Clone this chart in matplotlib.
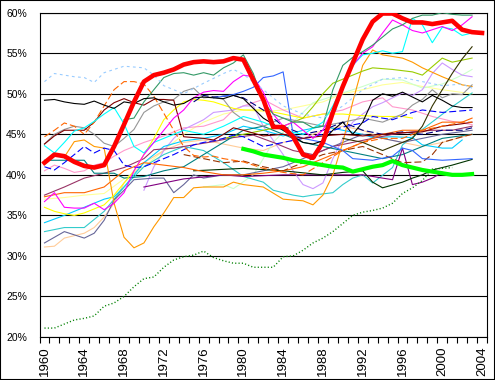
import matplotlib
matplotlib.use("Agg")
import matplotlib.pyplot as plt
from matplotlib.patches import Rectangle

plt.rcParams['font.family'] = ['Liberation Sans', 'DejaVu Sans']
plt.rcParams['lines.scale_dashes'] = False

# highlighted series, one value per year
red_start = 1960
red_vals = [41.5, 42.5, 42.3, 41.6, 41.1, 40.9, 41.2, 43.5, 46.2, 49.0,
            51.5, 52.3, 52.6, 53.0, 53.6, 53.9, 54.0, 53.9, 54.0, 54.4,
            54.2, 51.7, 49.3, 45.9, 45.9, 44.7, 42.5, 42.1, 44.0, 47.7,
            50.9, 53.8, 56.7, 58.9, 59.9, 59.9, 59.3, 58.8, 58.8, 58.6,
            58.8, 59.0, 57.9, 57.6, 57.5]
lime_start = 1980
lime_vals = [43.2, 42.9, 42.5, 42.3, 42.1, 41.8, 41.6, 41.4, 41.2, 41.0,
             40.9, 40.4, 40.7, 41.0, 41.2, 41.7, 41.2, 40.9, 40.6, 40.4,
             40.2, 40.0, 40.0, 40.1]
dotted_start = 1960
dotted_vals = [21.1, 21.1, 21.6, 22.1, 22.3, 22.6, 23.8, 24.2, 25.0, 26.2,
               27.2, 27.4, 28.6, 29.5, 29.9, 30.1, 30.6, 29.8, 29.4, 29.1,
               29.1, 28.6, 28.6, 28.6, 29.9, 30.0, 30.7, 31.6, 32.2, 33.0,
               34.0, 35.0, 35.4, 35.6, 35.9, 36.5, 37.7, 38.4, 39.3, 40.7,
               40.8, 40.9]

# thin series, (year, %)
lightblue = [(1960, 51.5), (1961, 52.5), (1963, 52.1), (1964, 52.0), (1965, 51.4), (1966, 52.6),
             (1968, 53.4), (1970, 53.2), (1971, 52.3), (1972, 51.0), (1974, 50.0), (1976, 51.3),
             (1978, 52.5), (1979, 53.0), (1980, 52.4), (1982, 50.5), (1984, 48.5), (1986, 47.5),
             (1988, 47.0), (1990, 48.5), (1992, 50.5), (1994, 51.8), (1996, 52.0), (1998, 51.5),
             (2000, 51.0), (2002, 51.2), (2003, 50.7)]
black = [(1960, 49.2), (1961, 49.3), (1962, 49.0), (1963, 48.8), (1964, 48.7), (1965, 49.1),
         (1966, 48.6), (1967, 48.2), (1968, 49.0), (1969, 48.8), (1970, 49.4), (1971, 49.5),
         (1972, 49.0), (1973, 48.6), (1974, 48.8), (1975, 49.5), (1976, 49.6), (1977, 49.5),
         (1978, 49.4), (1979, 49.8), (1980, 49.4), (1982, 47.0), (1984, 45.5), (1986, 44.0),
         (1987, 43.8), (1988, 44.2), (1989, 45.5), (1990, 46.5), (1991, 45.0), (1992, 46.5),
         (1993, 49.2), (1994, 50.0), (1995, 49.7), (1996, 50.2), (1997, 49.6), (1998, 49.0),
         (1999, 49.8), (2000, 49.2), (2001, 48.5), (2002, 48.3), (2003, 48.3)]
orange_dash = [(1960, 44.7), (1961, 45.5), (1962, 46.4), (1963, 46.0), (1964, 45.0), (1965, 46.5),
               (1966, 48.5), (1967, 50.5), (1968, 51.5), (1969, 51.5), (1970, 51.2), (1971, 49.7),
               (1972, 47.6), (1973, 45.5), (1974, 43.5), (1975, 42.4), (1976, 42.2), (1977, 42.3),
               (1978, 42.0), (1979, 41.8), (1980, 41.6), (1982, 40.8), (1984, 40.3), (1986, 40.0),
               (1988, 41.5), (1990, 43.0), (1992, 44.0), (1994, 44.5), (1996, 44.5), (1998, 45.5),
               (2000, 46.0), (2002, 46.5), (2003, 46.5)]
maroon = [(1960, 43.8), (1961, 44.8), (1962, 45.5), (1963, 45.5), (1964, 45.5), (1965, 46.5),
          (1966, 48.0), (1967, 48.9), (1968, 49.4), (1969, 48.9), (1970, 48.6), (1971, 49.3),
          (1972, 49.3), (1973, 49.2), (1974, 44.7), (1976, 44.5), (1977, 44.3), (1978, 45.0),
          (1979, 45.8), (1980, 45.5), (1982, 44.8), (1984, 45.0), (1986, 44.5), (1988, 44.8),
          (1990, 45.0), (1992, 44.8), (1994, 45.0), (1996, 45.2), (1998, 45.3), (2000, 46.0),
          (2002, 46.3), (2003, 46.5)]
seagreen = [(1968, 46.8), (1969, 47.0), (1970, 49.0), (1971, 50.5), (1972, 52.0), (1973, 52.5),
            (1974, 52.6), (1975, 52.3), (1976, 52.6), (1977, 52.3), (1978, 53.2), (1979, 53.8),
            (1980, 54.8), (1981, 52.5), (1982, 49.0), (1983, 47.5), (1984, 47.0), (1985, 46.5),
            (1986, 46.5), (1987, 45.8), (1988, 46.0), (1989, 50.5), (1990, 53.5), (1991, 54.5),
            (1992, 55.2), (1993, 56.0), (1994, 57.0), (1995, 58.0), (1996, 58.5), (1997, 59.3),
            (1998, 59.7), (1999, 59.7), (2000, 60.0), (2001, 59.8), (2002, 59.7), (2003, 59.7)]
magenta = [(1960, 36.7), (1961, 37.8), (1962, 36.0), (1963, 35.9), (1964, 35.9), (1965, 36.5),
           (1966, 35.7), (1967, 36.5), (1968, 37.8), (1969, 40.5), (1970, 42.5), (1971, 44.0),
           (1972, 45.5), (1973, 47.0), (1974, 48.0), (1975, 49.5), (1976, 50.2), (1977, 50.4),
           (1978, 50.3), (1979, 51.5), (1980, 52.3), (1981, 52.1), (1982, 50.2), (1983, 47.5),
           (1984, 46.0), (1985, 46.5), (1986, 45.5), (1987, 44.5), (1988, 45.5), (1989, 48.0),
           (1990, 51.0), (1991, 53.5), (1992, 55.0), (1993, 55.8), (1994, 57.5), (1995, 59.1),
           (1996, 58.5), (1997, 57.8), (1998, 57.5), (1999, 57.9), (2000, 58.3), (2001, 57.8),
           (2002, 58.5), (2003, 59.5)]
cyan = [(1960, 43.6), (1961, 42.7), (1962, 44.0), (1963, 45.4), (1964, 45.8), (1965, 46.6),
        (1966, 47.5), (1967, 48.3), (1968, 46.3), (1969, 43.5), (1970, 42.7), (1971, 44.0),
        (1972, 44.5), (1974, 45.5), (1976, 45.0), (1978, 46.0), (1980, 47.2), (1982, 46.5),
        (1984, 45.5), (1986, 45.0), (1988, 46.5), (1989, 48.5), (1990, 51.0), (1991, 53.5),
        (1992, 54.8), (1993, 55.0), (1994, 55.3), (1995, 55.0), (1996, 55.2), (1997, 59.3),
        (1998, 58.5), (1999, 56.3), (2000, 58.2), (2001, 58.0), (2002, 57.2), (2003, 57.5)]
yellow = [(1960, 36.0), (1961, 35.5), (1962, 35.2), (1963, 35.0), (1964, 35.3), (1965, 35.8),
          (1966, 36.3), (1967, 37.5), (1968, 39.0), (1969, 40.5), (1970, 42.5), (1971, 44.5),
          (1972, 46.8), (1973, 48.0), (1974, 49.0), (1975, 49.3), (1976, 49.2), (1977, 49.0),
          (1978, 48.6), (1979, 48.2), (1980, 48.0), (1982, 48.0), (1984, 47.5), (1986, 47.0),
          (1988, 47.5), (1990, 47.5), (1992, 47.3), (1994, 47.2), (1996, 47.2), (1997, 47.0)]
blue_dash = [(1960, 41.0), (1961, 40.6), (1962, 41.5), (1963, 42.5), (1964, 43.5), (1965, 42.7),
             (1966, 43.3), (1967, 43.0), (1968, 41.2), (1969, 40.9), (1970, 41.0), (1971, 41.5),
             (1972, 42.0), (1973, 42.5), (1974, 43.1), (1975, 43.7), (1976, 44.0), (1977, 44.2),
             (1978, 44.5), (1979, 44.9), (1980, 44.7), (1982, 43.5), (1984, 44.0), (1986, 44.5),
             (1988, 45.0), (1990, 45.9), (1992, 46.4), (1993, 47.2), (1995, 46.8), (1997, 47.7),
             (1998, 48.0), (2000, 47.7), (2003, 48.0)]
navy_dash = [(1975, 49.0), (1976, 49.8), (1977, 49.6), (1978, 49.7), (1979, 49.8), (1980, 49.5),
             (1982, 48.0), (1984, 46.0), (1986, 45.0), (1988, 45.5), (1990, 46.5), (1992, 45.5),
             (1994, 45.0), (1996, 45.3), (1998, 45.0), (2000, 45.5), (2002, 45.5), (2003, 45.8)]
gray = [(1960, 43.8), (1961, 45.0), (1962, 45.6), (1963, 46.0), (1964, 45.8), (1965, 45.0),
        (1966, 43.9), (1967, 43.5), (1968, 44.5), (1969, 45.6), (1970, 47.7), (1971, 48.5),
        (1972, 49.0), (1973, 49.3), (1974, 50.3), (1975, 50.7), (1976, 49.5), (1977, 49.6),
        (1978, 49.3), (1979, 47.7), (1980, 46.8), (1982, 46.0), (1984, 47.0), (1986, 46.5),
        (1988, 46.0), (1990, 46.5), (1992, 47.0), (1994, 46.5), (1996, 47.5), (1997, 48.6),
        (1998, 49.3), (1999, 50.5), (2000, 49.5), (2001, 50.0), (2002, 49.9), (2003, 51.1)]
pink = [(1960, 40.5), (1961, 41.2), (1962, 40.8), (1963, 40.3), (1964, 40.5), (1965, 41.2),
        (1966, 41.5), (1967, 42.3), (1968, 43.0), (1969, 43.5), (1970, 44.0), (1972, 44.8),
        (1974, 45.8), (1976, 46.0), (1978, 46.8), (1979, 48.0), (1980, 48.5), (1982, 49.3),
        (1984, 48.0), (1986, 47.0), (1988, 47.5), (1990, 48.0), (1992, 49.0), (1994, 49.5),
        (1995, 48.4), (1997, 48.0), (1999, 47.2), (2001, 46.6), (2003, 46.2)]
peach = [(1960, 31.1), (1961, 31.2), (1962, 32.2), (1963, 32.5), (1964, 32.8), (1965, 33.5),
         (1966, 34.8), (1967, 36.5), (1968, 39.0), (1970, 41.5), (1972, 43.0), (1974, 44.0),
         (1976, 44.3), (1978, 43.8), (1980, 43.3), (1982, 43.0), (1984, 44.0), (1986, 44.5),
         (1988, 45.5), (1990, 46.0), (1992, 45.5), (1994, 44.5), (1996, 44.0), (1998, 43.5),
         (2000, 44.0), (2003, 45.0)]
lightyellow = [(1960, 37.0), (1962, 37.2), (1964, 37.5), (1966, 37.7), (1968, 39.5), (1970, 41.0),
               (1972, 43.0), (1974, 45.0), (1976, 46.5), (1978, 47.5), (1980, 48.0), (1982, 47.8),
               (1984, 48.0), (1986, 48.5), (1988, 49.0), (1990, 50.0), (1992, 50.5), (1994, 51.1),
               (1996, 51.4), (1998, 50.9), (2000, 50.5), (2003, 50.0)]
sky = [(1960, 34.1), (1962, 35.0), (1964, 36.0), (1966, 37.0), (1967, 37.3), (1968, 38.5),
       (1969, 40.0), (1970, 41.5), (1972, 43.5), (1974, 44.2), (1976, 44.5), (1978, 45.0),
       (1980, 46.0), (1982, 45.5), (1984, 44.8), (1986, 45.5), (1988, 46.0), (1990, 45.5),
       (1992, 45.0), (1993, 44.6), (1995, 44.7), (1997, 44.6), (1998, 43.7), (1999, 43.5),
       (2000, 43.3), (2001, 43.3), (2002, 44.3)]
turquoise = [(1960, 33.0), (1962, 33.5), (1964, 33.5), (1966, 35.5), (1968, 38.5), (1970, 41.0),
             (1972, 42.5), (1974, 43.5), (1976, 43.0), (1978, 41.5), (1980, 39.8), (1982, 39.1),
             (1983, 38.1), (1985, 37.5), (1986, 37.3), (1987, 37.5), (1989, 37.8), (1990, 38.8),
             (1991, 39.6), (1992, 40.0), (1993, 39.0), (1995, 40.9), (1996, 43.7), (1998, 45.6),
             (2001, 48.4), (2003, 50.1)]
slate = [(1960, 31.6), (1962, 33.0), (1964, 32.2), (1965, 32.8), (1966, 34.4), (1967, 36.9),
         (1968, 38.1), (1969, 39.4), (1971, 39.6), (1972, 39.6), (1973, 37.8), (1974, 38.8),
         (1975, 40.0), (1976, 39.6), (1978, 40.0), (1980, 40.0), (1982, 40.5), (1984, 41.0),
         (1986, 42.0), (1988, 43.0), (1990, 44.0), (1992, 45.0), (1994, 44.5), (1996, 44.0),
         (1998, 44.5), (2000, 45.0), (2003, 45.5)]
orange = [(1962, 42.2), (1963, 44.1), (1964, 44.3), (1965, 43.5), (1966, 43.3), (1967, 36.5),
          (1968, 32.3), (1969, 31.0), (1970, 31.6), (1971, 33.6), (1972, 35.3), (1973, 37.2),
          (1974, 37.2), (1975, 38.4), (1976, 38.5), (1978, 38.5), (1979, 39.1), (1980, 38.8),
          (1982, 38.5), (1984, 37.0), (1986, 36.8), (1987, 36.3), (1988, 37.5), (1989, 40.0),
          (1990, 44.0), (1991, 49.0), (1992, 53.5), (1993, 55.4), (1994, 54.8), (1996, 54.4),
          (1997, 53.9), (1998, 53.2), (2000, 52.1), (2002, 51.1), (2003, 50.9)]
olive = [(1978, 44.5), (1980, 45.0), (1982, 45.5), (1984, 46.0), (1986, 47.0), (1987, 48.4),
         (1988, 50.0), (1989, 51.3), (1990, 51.8), (1991, 52.3), (1992, 52.8), (1993, 53.2),
         (1995, 53.0), (1997, 52.7), (1998, 52.3), (2000, 54.4), (2001, 53.9), (2003, 54.4)]
lavender = [(1970, 38.1), (1971, 41.0), (1972, 43.0), (1973, 44.5), (1974, 45.6), (1976, 46.8),
            (1977, 47.7), (1979, 48.0), (1980, 48.5), (1981, 48.5), (1982, 46.0), (1984, 42.5),
            (1985, 40.5), (1986, 38.8), (1987, 38.3), (1988, 39.0), (1989, 42.0), (1990, 44.5),
            (1991, 46.5), (1992, 47.5), (1993, 48.4), (1994, 48.9), (1996, 50.1), (1997, 49.8),
            (1998, 50.5), (1999, 52.5), (2000, 53.8), (2001, 53.0), (2002, 52.3), (2003, 52.1)]
purple = [(1970, 38.5), (1974, 39.5), (1978, 40.0), (1980, 39.8), (1984, 40.0), (1988, 40.0),
          (1992, 40.0), (1993, 39.8), (1995, 39.4), (1996, 43.3), (1997, 38.8), (1998, 39.1),
          (1999, 39.6), (2000, 40.3)]
darkgreen = [(1975, 40.5), (1980, 40.8), (1984, 40.5), (1988, 40.0), (1990, 40.3), (1992, 40.5),
             (1993, 39.1), (1994, 38.4), (1996, 39.1), (1997, 39.6), (1998, 40.0), (1999, 40.6),
             (2001, 41.2), (2003, 41.9)]
royalblue = [(1977, 49.5), (1979, 49.9), (1980, 50.3), (1981, 50.8), (1982, 52.0), (1983, 52.2),
             (1984, 52.7), (1985, 45.0), (1986, 44.5), (1988, 44.0), (1990, 43.0), (1991, 42.0),
             (1993, 41.8), (1995, 42.3), (1996, 43.3), (1997, 43.0), (1998, 42.0), (2000, 41.8),
             (2003, 42.0)]
teal = [(1960, 41.8), (1962, 41.8), (1964, 41.8), (1965, 40.2), (1967, 40.2), (1968, 39.6),
        (1970, 39.8), (1972, 40.5), (1974, 41.0), (1976, 42.5), (1978, 44.0), (1980, 45.5),
        (1982, 46.0), (1984, 45.0), (1986, 44.0), (1988, 43.5), (1990, 43.0), (1992, 42.5),
        (1994, 42.0), (1996, 42.5), (1998, 43.5), (2000, 44.5), (2003, 45.0)]
plum = [(1960, 37.5), (1962, 38.5), (1964, 39.6), (1966, 40.2), (1968, 40.9), (1970, 42.0),
        (1971, 43.1), (1973, 43.3), (1975, 43.7), (1977, 44.1), (1979, 44.6), (1981, 44.9),
        (1983, 44.0), (1985, 43.0), (1987, 42.5), (1989, 43.5), (1991, 44.0), (1993, 44.5),
        (1995, 45.0), (1997, 45.3), (1999, 45.5), (2001, 45.5), (2003, 46.0)]
orangered = [(1960, 37.3), (1962, 37.8), (1964, 37.8), (1966, 38.5), (1968, 40.5), (1970, 41.5),
             (1972, 41.2), (1974, 40.9), (1976, 40.4), (1978, 40.0), (1980, 40.0), (1982, 40.2),
             (1984, 40.5), (1986, 41.0), (1988, 42.0), (1990, 43.0), (1992, 44.0), (1994, 45.0),
             (1996, 45.5), (1998, 45.5), (2000, 46.5), (2002, 46.5), (2003, 47.0)]
brown_dash = [(1974, 42.5), (1976, 42.0), (1978, 41.5), (1980, 41.7), (1982, 41.0), (1984, 40.5),
              (1986, 41.5), (1988, 42.5), (1990, 43.0), (1992, 43.5), (1994, 42.5), (1996, 41.5),
              (1998, 41.6), (1999, 42.5), (2000, 44.0), (2002, 44.7), (2003, 45.0)]
darkolive = [(1990, 44.5), (1992, 44.0), (1994, 43.0), (1996, 44.0), (1997, 44.5), (1998, 46.0),
             (1999, 48.5), (2000, 50.5), (2001, 52.5), (2002, 54.3), (2003, 55.8)]
lightgreen = [(1976, 38.5), (1978, 38.8), (1979, 38.3), (1981, 40.0), (1983, 44.0), (1985, 46.5),
              (1987, 48.9), (1990, 50.1), (1992, 50.9), (1994, 51.8), (1996, 51.7), (1998, 50.7),
              (2000, 51.2), (2002, 52.3), (2003, 53.0)]

label_years = list(range(1960, 2005, 4))
y_ticks = [20, 25, 30, 35, 40, 45, 50, 55, 60]

DASH = (0, (5, 2.2))
DOT = (0, (2, 2.4))
FINE_DOT = (0, (0.8, 1.6))

thin = [
    (lightyellow, '#FFFF99', '-'), (peach, '#FFCC99', '-'), (lightgreen, '#CCFFCC', '-'),
    (pink, '#FF99CC', '-'), (lavender, '#CC99FF', '-'), (sky, '#00CCFF', '-'),
    (turquoise, '#33CCCC', '-'), (slate, '#666699', '-'), (plum, '#993366', '-'),
    (teal, '#008080', '-'), (purple, '#800080', '-'), (darkgreen, '#003300', '-'),
    (orangered, '#FF6600', '-'), (brown_dash, '#993300', DASH), (orange, '#FF9900', '-'),
    (yellow, '#FFFF00', '-'), (olive, '#99CC00', '-'), (gray, '#969696', '-'),
    (navy_dash, '#000080', DASH), (blue_dash, '#0000FF', DASH), (royalblue, '#3366FF', '-'),
    (maroon, '#800000', '-'), (orange_dash, '#FF6600', DASH), (cyan, '#00FFFF', '-'),
    (magenta, '#FF00FF', '-'), (seagreen, '#339966', '-'), (darkolive, '#333300', '-'),
    (black, '#000000', '-'), (lightblue, '#99CCFF', DOT),
]

fig = plt.figure(figsize=(4.95, 3.80), dpi=100)
ax = fig.add_axes([39.5 / 495, 1 - 337 / 380, (487 - 39.5) / 495, (337 - 12.7) / 380])

for pts, col, ls in thin:
    ax.plot([p[0] for p in pts], [p[1] for p in pts], color=col, lw=0.8, linestyle=ls, zorder=3)

ax.plot(range(dotted_start, dotted_start + len(dotted_vals)), dotted_vals,
        color='#008000', lw=1.0, linestyle=FINE_DOT, zorder=4)
ax.plot(range(lime_start, lime_start + len(lime_vals)), lime_vals,
        color='#00FF00', lw=3.0, zorder=5, solid_joinstyle='round')
ax.plot(range(red_start, red_start + len(red_vals)), red_vals,
        color='#FF0000', lw=3.3, zorder=6, solid_joinstyle='round')

ax.set_xlim(1959.5, 2004.5)
ax.set_ylim(20, 60)
ax.set_yticks(y_ticks)
ax.set_yticklabels([f'{v}%' for v in y_ticks], fontsize=7.5)
ax.set_xticks(label_years)
ax.set_xticklabels([str(y) for y in label_years], rotation=90, fontsize=9.5)
ax.set_xticks([y - 0.5 for y in range(1960, 2006)], minor=True)
ax.tick_params(axis='x', which='major', length=0, pad=7)
ax.tick_params(axis='x', which='minor', length=4, width=0.8, direction='out')
ax.tick_params(axis='y', length=0, pad=9)

ax.yaxis.grid(True, color='black', lw=0.8)
ax.set_axisbelow(True)
for s in ax.spines.values():
    s.set_color('black')
    s.set_linewidth(0.8)

fig.patches.append(Rectangle((0, 0), 1, 1, transform=fig.transFigure, fill=False,
                             edgecolor='black', lw=1.5))

fig.savefig('out.png', dpi=100)
